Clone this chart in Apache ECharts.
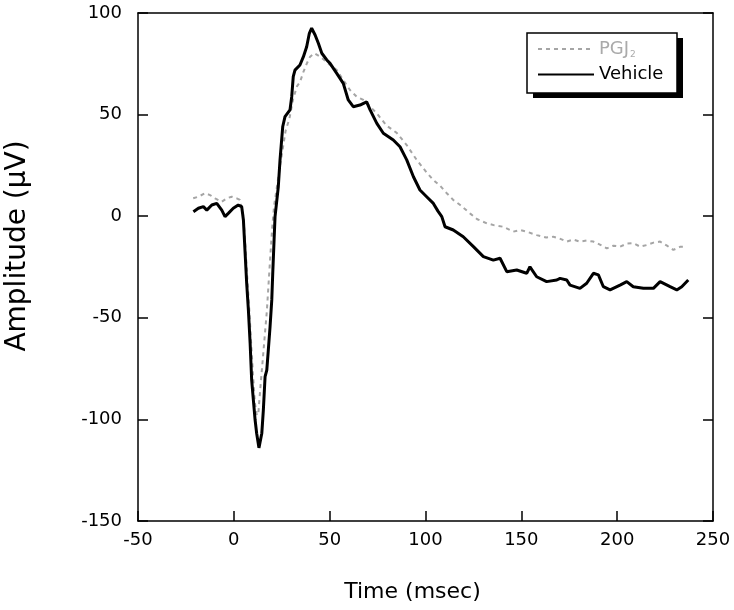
<!DOCTYPE html>
<html>
<head>
<meta charset="utf-8">
<script src="https://cdn.jsdelivr.net/npm/echarts@6/dist/echarts.min.js"></script>
<style>html,body{margin:0;padding:0;background:#fff}#c{width:734px;height:610px}</style>
</head>
<body>
<div id="c"></div>
<script>
// ---- data (time in msec, amplitude in µV) ----
var timeVehicle = [-21.1,-18.5,-15.9,-14.1,-11.5,-8.9,-6.3,-4.6,-2.9,-0.3,2.3,4.1,5.0,5.8,6.7,7.6,8.5,9.3,10.2,11.1,11.9,13.1,14.6,15.4,16.3,17.2,18.0,18.9,19.8,20.3,21.0,21.5,23.2,24.1,25.5,26.7,29.3,30.2,31.0,31.9,34.5,36.3,38.0,39.4,40.6,42.4,44.1,45.9,48.5,50.2,53.7,57.1,59.7,62.3,65.8,69.3,71.1,74.6,78.0,83.2,86.7,90.2,93.7,97.1,100.6,104.1,106.5,108.5,110.2,114.5,119.7,125.0,130.2,135.4,138.9,142.4,147.6,152.8,154.5,158.0,163.2,168.5,170.2,173.7,175.4,180.6,184.1,187.6,190.2,192.8,196.3,201.5,205.0,208.4,213.7,218.9,222.4,227.6,231.1,233.7,237.1];
var ampVehicle  = [2.2,3.9,4.7,3.0,5.5,6.3,3.0,-0.2,1.4,3.9,5.5,4.7,-1.9,-16.6,-33,-46.2,-62.5,-80.6,-90.5,-100.3,-106.8,-114,-106.8,-95.4,-79,-75.7,-65.8,-54.4,-41.2,-28.1,-11.7,-0.2,14.5,27.7,44,49,52.3,58.8,68.7,71.9,74.4,78.5,83.4,90,92.5,89.2,85.1,80.2,76.9,75.2,70.3,65.4,57.2,53.9,54.7,56.3,52.3,45.7,40.8,37.5,34.2,27.7,19.4,12.9,9.6,6.3,2.5,-0.2,-5.2,-6.8,-10.1,-15,-19.9,-21.6,-20.7,-27.3,-26.5,-28.1,-24.9,-29.8,-32.2,-31.4,-30.6,-31.4,-33.9,-35.5,-33,-28.1,-28.9,-34.7,-36.3,-33.9,-32.2,-34.7,-35.5,-35.5,-32.2,-34.7,-36.3,-34.7,-31.4];

var timePGJ = [-21.2,-18.5,-15.0,-12.4,-9.8,-6.3,-3.7,-1.1,1.5,3.2,5.0,6.0,7.0,8.0,9.0,10.0,11.0,12.0,12.8,13.7,14.6,15.4,16.3,17.2,18.0,19.0,20.0,21.0,22.4,24.0,25.5,27.0,29.0,31.0,33.0,34.5,36.3,38.0,39.8,42.0,45.0,47.0,50.2,53.7,57.1,60.6,64.1,67.6,71.1,74.6,79.8,85.0,90.2,95.4,100.6,104.1,107.6,111.1,114.5,118.1,123.2,127.0,132.0,136.0,140.6,145.8,149.3,152.8,158.0,163.0,166.7,170.0,173.7,177.0,180.6,184.0,187.6,191.0,194.6,198.0,201.5,205.0,208.4,212.0,215.4,219.0,222.4,226.0,229.3,233.0,236.3];
var ampPGJ  = [8.8,9.6,11.3,10.4,8.8,7.1,8.8,9.6,8.8,8.0,0,-14,-30,-45,-62,-78,-92,-98,-97,-86,-76,-67,-57,-47,-35,-20,-6,5,14,24,33,42,48,58,64,66,71,75,78.5,80.2,78.5,77,74.4,71.9,67,62.1,58.8,57.2,53.9,50.6,44.5,41,35,27.7,21.5,17.8,15,11.3,8,5.5,1.4,-1.5,-3.5,-4.5,-5.2,-7.6,-6.8,-7.6,-9.3,-10.5,-10.1,-11,-12.5,-11.5,-12.5,-12,-12.5,-14,-15.8,-14.5,-15,-13.5,-13.3,-15,-14.2,-13,-12.5,-14.5,-16.6,-15,-15];

var xTicks = {min: -50, max: 250, interval: 50};
var yTicks = {min: -150, max: 100, interval: 50};
var seriesNames = ['PGJ2', 'Vehicle'];

function zip(xs, ys){ return xs.map(function(x,i){ return [x, ys[i]]; }); }

var FONT = 'DejaVu Sans';
var chart = echarts.init(document.getElementById('c'), null, {renderer:'canvas'});
var axisLine = {show:true, onZero:false, lineStyle:{color:'#000', width:1.5}};
var tick = {show:true, inside:true, length:10, lineStyle:{color:'#000', width:1.5}};
chart.setOption({
  animation: false,
  backgroundColor: '#fff',
  grid: {left:138, right:21, top:13, bottom:89, containLabel:false, outerBoundsMode:'none'},
  graphic: [
    {type:'rect', z:1, shape:{x:533, y:38, width:150, height:60}, style:{fill:'#000'}, silent:true},
    {type:'rect', z:2, shape:{x:527, y:33, width:150, height:60}, style:{fill:'#fff', stroke:'#000', lineWidth:1.5}, silent:true}
  ],
  xAxis: [{
    type:'value', position:'bottom', min:xTicks.min, max:xTicks.max, interval:xTicks.interval,
    axisLine: axisLine, splitLine:{show:false}, axisTick: tick,
    axisLabel:{color:'#000', fontSize:18, fontFamily:FONT, margin:10},
    name:'Time (msec)', nameLocation:'middle', nameGap:60,
    nameTextStyle:{color:'#000', fontSize:22, fontFamily:FONT, padding:[0,26,0,0]}
  },{
    type:'value', position:'top', min:xTicks.min, max:xTicks.max, interval:xTicks.interval,
    axisLine: axisLine, axisTick:{show:false}, axisLabel:{show:false}, splitLine:{show:false}
  }],
  yAxis: [{
    type:'value', position:'left', min:yTicks.min, max:yTicks.max, interval:yTicks.interval,
    axisLine: axisLine, splitLine:{show:false}, axisTick: tick,
    axisLabel:{color:'#000', fontSize:18, fontFamily:FONT, margin:16},
    name:'Amplitude (\u03bcV)', nameLocation:'middle', nameGap:106,
    nameTextStyle:{color:'#000', fontSize:28, fontFamily:FONT, padding:[0,0,0,42]}
  },{
    type:'value', position:'right', min:yTicks.min, max:yTicks.max, interval:yTicks.interval,
    axisLine: axisLine, splitLine:{show:false}, axisTick: tick,
    axisLabel:{show:false}
  }],
  legend: {
    orient:'vertical', left:527, top:33, z:5,
    padding:[7,11,7,10], itemGap:6, itemWidth:56, itemHeight:22,
    itemStyle:{color:'rgba(0,0,0,0)', borderWidth:0, opacity:0},
    data: seriesNames,
    formatter: function(n){ return n === 'PGJ2' ? '{p|PGJ}{s|2}' : '{v|Vehicle}'; },
    textStyle: {
      fontFamily: FONT, fontSize: 18,
      rich: {
        p:{color:'#aaaaaa', fontSize:18, fontFamily:FONT, height:22},
        s:{color:'#aaaaaa', fontSize:9, fontFamily:FONT, verticalAlign:'bottom', height:22, padding:[12,0,0,1]},
        v:{color:'#000', fontSize:18, fontFamily:FONT, height:22}
      }
    }
  },
  series: [{
    name: seriesNames[0], type:'line', symbol:'none', xAxisIndex:0, yAxisIndex:0,
    data: zip(timePGJ, ampPGJ),
    lineStyle:{color:'#a5a5a5', width:2, type:[4,4]},
    itemStyle:{color:'#a5a5a5'}, z:2
  },{
    name: seriesNames[1], type:'line', symbol:'none', xAxisIndex:0, yAxisIndex:0,
    data: zip(timeVehicle, ampVehicle),
    lineStyle:{color:'#000', width:3},
    itemStyle:{color:'#000'}, z:3
  }]
});
</script>
</body>
</html>
